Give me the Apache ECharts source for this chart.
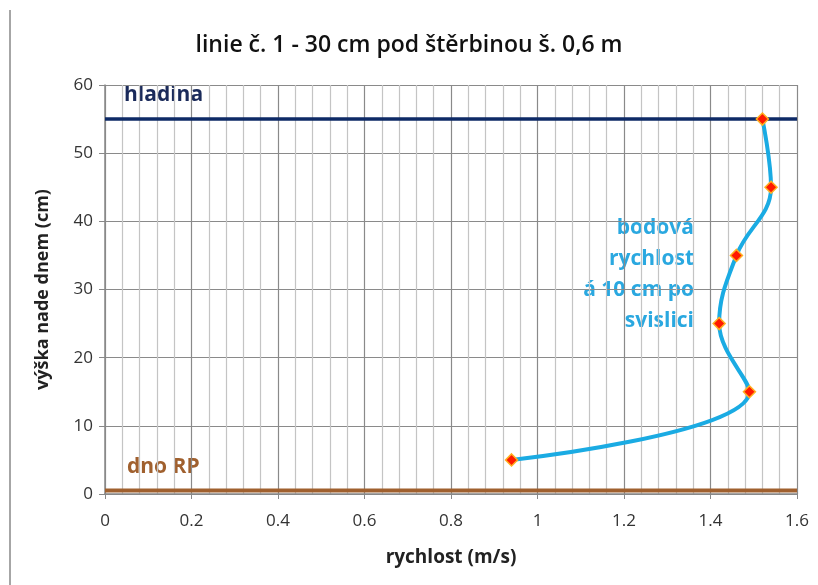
<!DOCTYPE html>
<html><head><meta charset="utf-8">
<script src="https://cdn.jsdelivr.net/npm/echarts@6/dist/echarts.min.js"></script>
<style>html,body{margin:0;padding:0;background:#fff}#c{width:818px;height:585px}</style>
</head><body><div id="c"></div>
<script>
const heights = [5, 15, 25, 35, 45, 55];
const velocities = [0.94, 1.49, 1.42, 1.46, 1.54, 1.52];
const surfaceLevel = 55;
const bottomLevel = 0.5;
const xRange = [0, 1.6];
const titleText = 'linie č. 1 - 30 cm pod štěrbinou š. 0,6 m';

const chart = echarts.init(document.getElementById('c'));
const pts = heights.map((h, i) => [velocities[i], h]);
const font = '"Open Sans", sans-serif';
chart.setOption({
  animation: false,
  title: {text: titleText, left: 'center', top: 29,
    textStyle: {fontFamily: font, fontSize: 23, fontWeight: 600, color: '#111'}},
  grid: {left: 105, right: 21, top: 85, bottom: 91},
  xAxis: {type: 'value', min: xRange[0], max: xRange[1], interval: 0.2,
    name: 'rychlost (m/s)', nameLocation: 'middle', nameGap: 54,
    nameTextStyle: {fontFamily: font, fontSize: 19, fontWeight: 'bold', color: '#222'},
    axisLine: {lineStyle: {color: '#888', width: 1.5}},
    axisTick: {show: true, length: 5, lineStyle: {color: '#888'}},
    axisLabel: {fontFamily: font, fontSize: 17, color: '#333', margin: 19},
    splitLine: {show: true, lineStyle: {color: '#8a8a8a', width: 1.2}},
    minorTick: {show: false, splitNumber: 5},
    minorSplitLine: {show: true, lineStyle: {color: '#c4c4c4', width: 1.2}}},
  yAxis: {type: 'value', min: 0, max: 60, interval: 10,
    name: 'výška nade dnem (cm)', nameLocation: 'middle', nameGap: 53, nameRotate: 90,
    nameTextStyle: {fontFamily: font, fontSize: 18, fontWeight: 'bold', color: '#222'},
    axisLine: {show: true, lineStyle: {color: '#888', width: 1.5}},
    axisTick: {show: true, length: 6, lineStyle: {color: '#888'}},
    axisLabel: {fontFamily: font, fontSize: 17, color: '#333', margin: 12},
    splitLine: {show: true, lineStyle: {color: '#8a8a8a', width: 1.2}}},
  series: [
    {type: 'line', data: [[xRange[0], bottomLevel], [xRange[1], bottomLevel]], symbol: 'none',
      lineStyle: {color: '#a0602e', width: 4}, z: 3},
    {type: 'line', data: [[xRange[0], surfaceLevel], [xRange[1], surfaceLevel]], symbol: 'none',
      lineStyle: {color: '#0e2a66', width: 3.5}, z: 3},
    {type: 'line', data: pts, smooth: 0.4, symbol: 'diamond', symbolSize: 12,
      lineStyle: {color: '#1aabe3', width: 4},
      itemStyle: {color: '#ff1a00', borderColor: '#ffb020', borderWidth: 1.5}, z: 5}
  ],
  graphic: [
    {type: 'line', shape: {x1: 10, y1: 10, x2: 10, y2: 585}, style: {stroke: '#888', lineWidth: 1.5}},
    {type: 'text', x: 124, y: 85, style: {text: 'hladina', font: 'bold 21px ' + font, fill: '#1a2a5a'}},
    {type: 'text', x: 127, y: 457, style: {text: 'dno RP', font: 'bold 21px ' + font, fill: '#a0602e'}},
    {type: 'text', x: 694, y: 213, style: {text: 'bodová\nrychlost\ná 10 cm po\nsvislici',
      font: 'bold 21px ' + font, fill: '#2aa8e0', align: 'right', lineHeight: 31}}
  ]
});
</script></body></html>
